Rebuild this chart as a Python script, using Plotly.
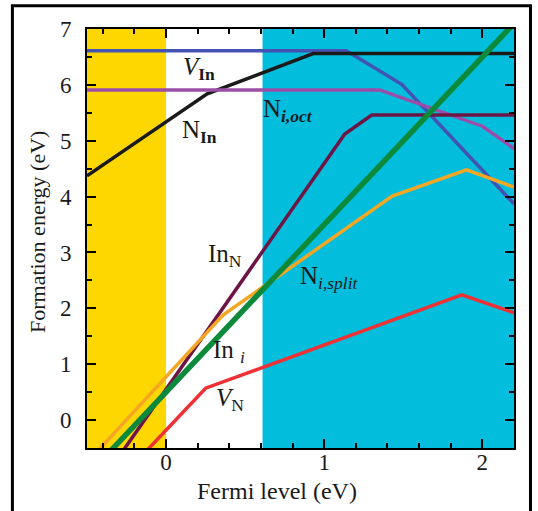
import plotly.graph_objects as go

# ---- data ----
vin_x = [-0.5, 1.14, 1.49, 2.2]
vin_y = [6.61, 6.61, 6.01, 3.87]

nin_x = [-0.5, 0.26, 0.93, 2.2]
nin_y = [4.37, 5.84, 6.56, 6.56]

nioct_x = [-0.5, 1.35, 2.0, 2.2]
nioct_y = [5.91, 5.91, 5.26, 4.86]

inn_x = [-0.5, 1.13, 1.30, 2.2]
inn_y = [-1.47, 5.12, 5.46, 5.46]

nisplit_x = [-0.5, 0.36, 1.43, 1.90, 2.2]
nisplit_y = [-0.76, 1.88, 4.01, 4.48, 4.17]

vn_x = [-0.5, 0.25, 1.87, 2.2]
vn_y = [-1.68, 0.57, 2.24, 1.92]

ini_x = [-0.5, 2.2]
ini_y = [-1.0, 7.1]

vb_region = [-0.5, 0.0]
cb_region = [0.61, 2.2]

x_range = [-0.5, 2.2]
y_range = [-0.5, 7.0]

series = [
    (vin_x, vin_y, "#4353B3", 3.5),
    (nin_x, nin_y, "#1a1a1a", 3.5),
    (nioct_x, nioct_y, "#9B4EA8", 3.5),
    (inn_x, inn_y, "#6D1645", 3.5),
    (nisplit_x, nisplit_y, "#F5A623", 3.5),
    (vn_x, vn_y, "#EE3135", 3.5),
    (ini_x, ini_y, "#0B8A3C", 5.5),
]

FONT = "Liberation Serif, Times New Roman, serif"

fig = go.Figure()
for xs, ys, col, w in series:
    fig.add_trace(go.Scatter(x=xs, y=ys, mode="lines",
                             line=dict(color=col, width=w), showlegend=False,
                             hoverinfo="skip"))

shapes = [
    dict(type="rect", xref="x", yref="paper", x0=vb_region[0], x1=vb_region[1],
         y0=0, y1=1, fillcolor="#FFD700", line=dict(width=0), layer="below"),
    dict(type="rect", xref="x", yref="paper", x0=cb_region[0], x1=cb_region[1],
         y0=0, y1=1, fillcolor="#02BEDC", line=dict(width=0), layer="below"),
    dict(type="rect", xref="paper", yref="paper", x0=-0.1747, x1=1.0386,
         y0=-0.18, y1=1.0556, line=dict(color="black", width=3),
         fillcolor="rgba(0,0,0,0)", layer="above"),
]

labels = [
    ("<i>V</i><sub><b>In</b></sub>", 0.095, 6.30),
    ("N<sub><b>In</b></sub>", 0.085, 5.17),
    ("N<sub><b><i>i,oct</i></b></sub>", 0.600, 5.55),
    ("In<sub>N</sub>", 0.250, 2.95),
    ("N<sub><i>i,split</i></sub>", 0.835, 2.55),
    ("In <sub><i>i</i></sub>", 0.282, 1.23),
    ("<i>V</i><sub>N</sub>", 0.300, 0.37),
]
annotations = []
for txt, x, y in labels:
    annotations.append(dict(text=txt, x=x, y=y, xref="x", yref="y",
                            xanchor="left", yanchor="middle", showarrow=False,
                            font=dict(family=FONT, size=25, color="#1a1a1a")))

annotations.append(dict(text="Fermi level (eV)", x=0.444, y=-0.103, xref="paper",
                        yref="paper", xanchor="center", yanchor="middle",
                        showarrow=False, font=dict(family=FONT, size=24, color="#1a1a1a")))
annotations.append(dict(text="Formation energy (eV)", x=-0.117, y=0.5155, xref="paper",
                        yref="paper", xanchor="center", yanchor="middle", textangle=-90,
                        showarrow=False, font=dict(family=FONT, size=22, color="#1a1a1a")))

axis_common = dict(showgrid=False, zeroline=False, showline=True, linecolor="black",
                   linewidth=2, mirror="ticks", ticks="inside", ticklen=9,
                   tickwidth=1.5, tickcolor="black",
                   tickfont=dict(family=FONT, size=23, color="#1a1a1a"))

fig.update_layout(
    width=538, height=511,
    margin=dict(l=87, r=24, t=29, b=63),
    paper_bgcolor="white", plot_bgcolor="white",
    shapes=shapes, annotations=annotations,
    xaxis=dict(range=x_range, dtick=1, tick0=0, ticklabelstandoff=-8,
               minor=dict(dtick=0.2, ticks="inside", ticklen=5, tickcolor="black", tickwidth=1.5),
               **axis_common),
    yaxis=dict(range=y_range, dtick=1, tick0=0, ticklabelstandoff=9,
               minor=dict(dtick=0.5, ticks="inside", ticklen=5, tickcolor="black", tickwidth=1.5),
               **axis_common),
)

fig.write_html("out.html")
